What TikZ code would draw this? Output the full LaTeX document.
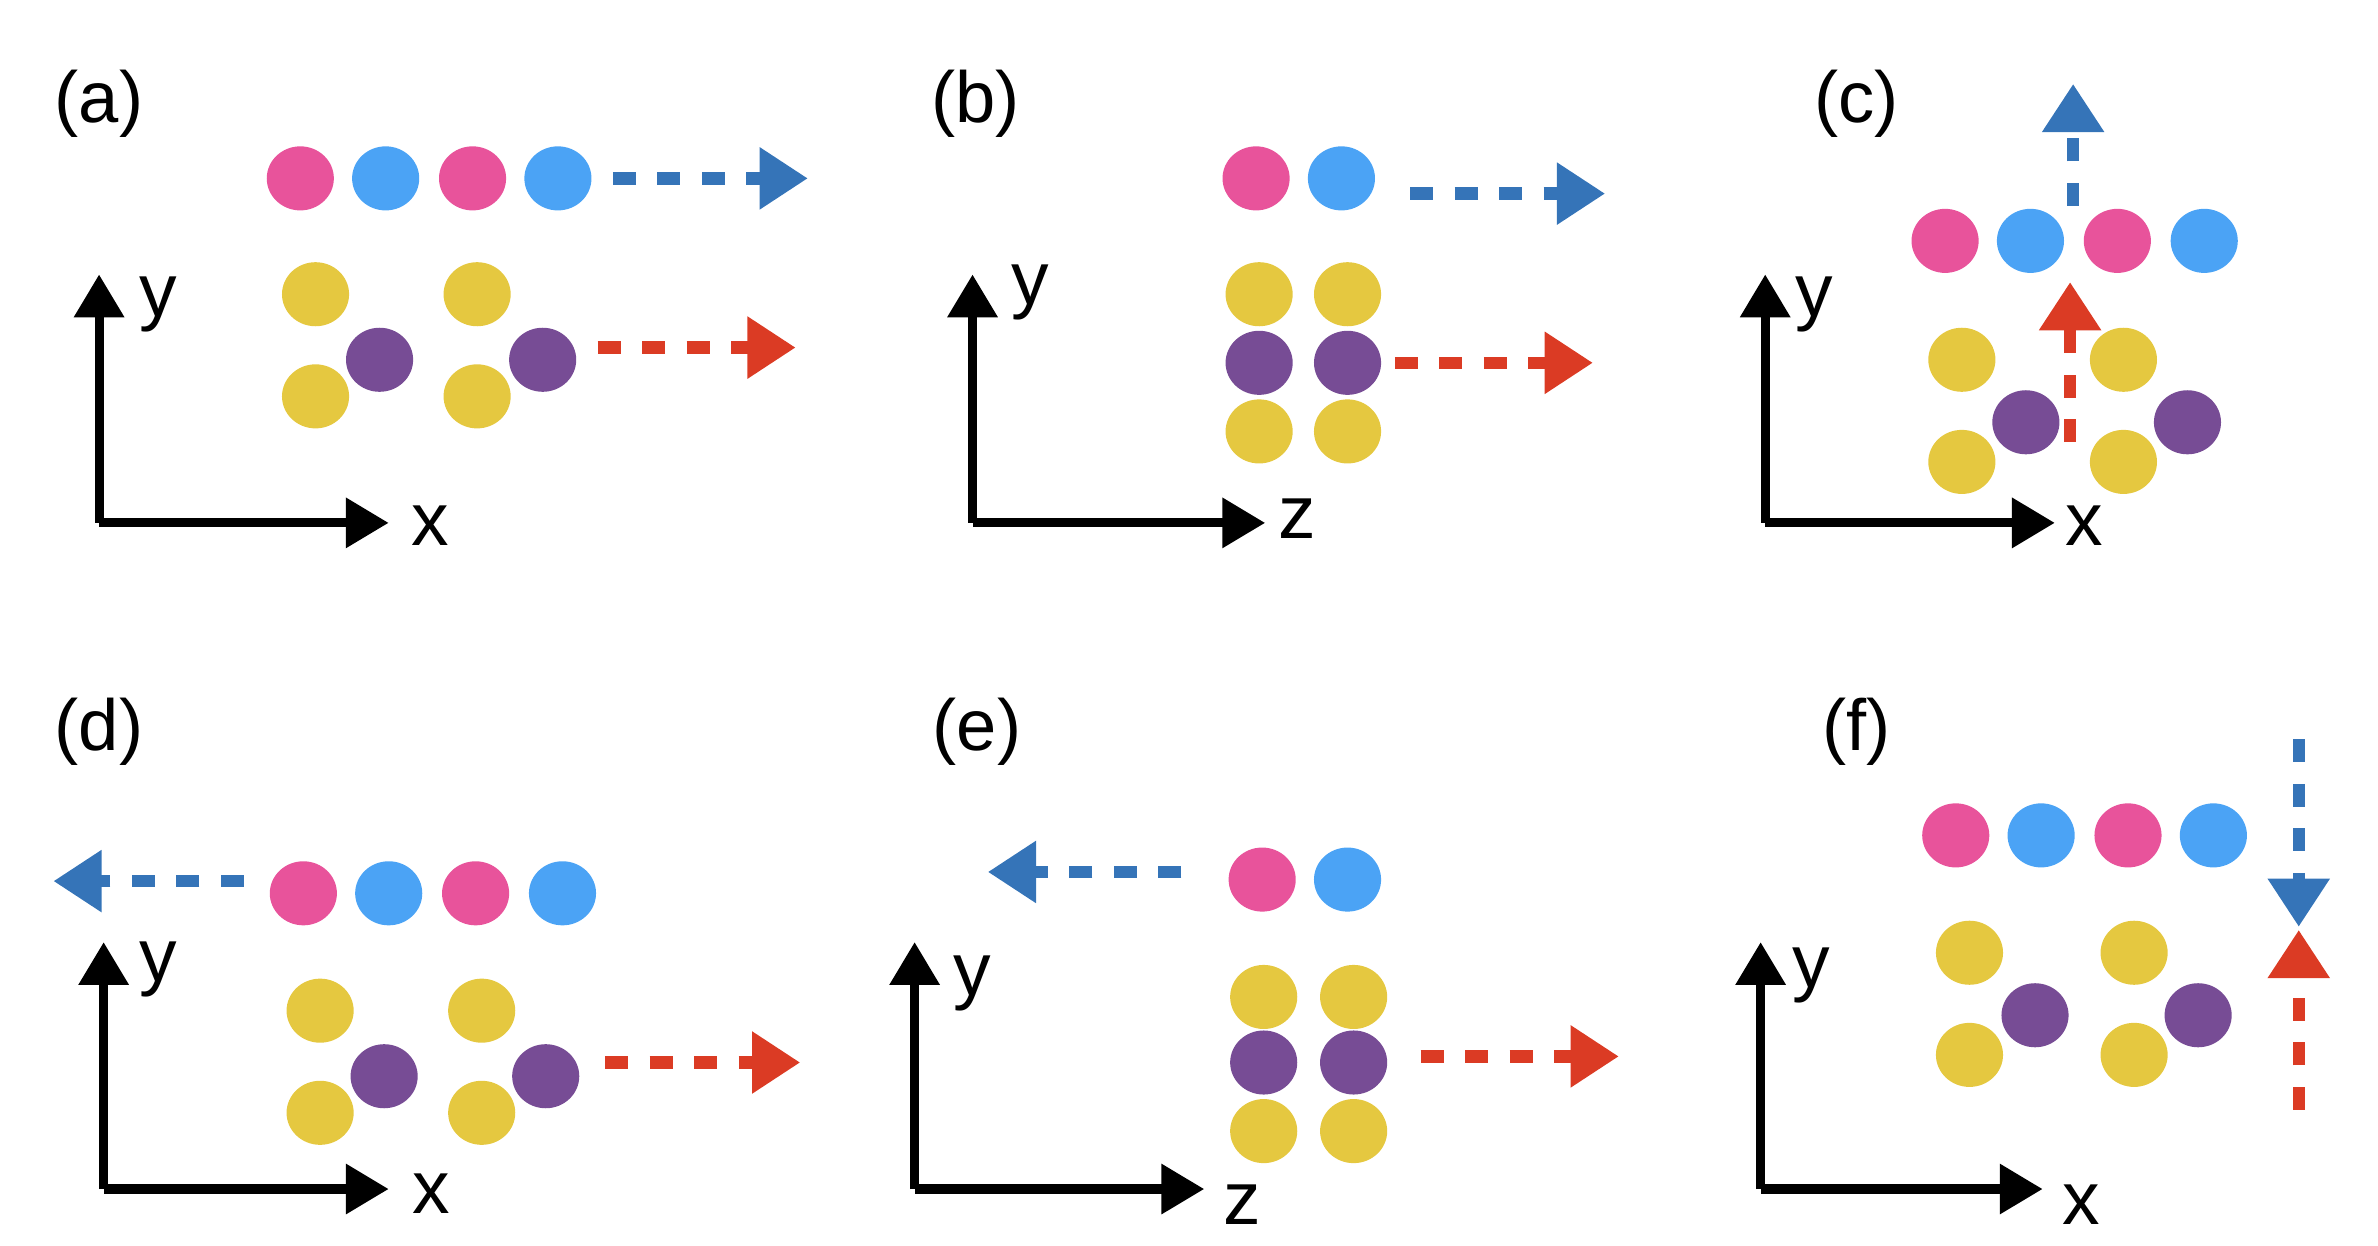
\documentclass[tikz,border=0pt]{standalone}
\usepackage{fontspec}
\setmainfont{Liberation Sans}
\usetikzlibrary{arrows.meta,shapes.geometric}
\definecolor{cpink}{HTML}{E8539B}
\definecolor{cblue}{HTML}{4BA3F5}
\definecolor{cyel}{HTML}{E5C840}
\definecolor{cpur}{HTML}{774C95}
\definecolor{ablue}{HTML}{3574B8}
\definecolor{ared}{HTML}{DB3B24}
\begin{document}
\begin{tikzpicture}[x=0.01cm,y=-0.01cm,
  atom/.style={minimum width=0.44cm,minimum height=0.42cm,ellipse,inner sep=0,draw=none},
  P/.style={atom,fill=cpink}, B/.style={atom,fill=cblue}, Y/.style={atom,fill=cyel}, U/.style={atom,fill=cpur},
  da/.style={line width=2.3pt,dash pattern=on 4.3pt off 4pt,-{Triangle[length=9pt,width=11pt]}},
  ax/.style={line width=1.7pt,-{Triangle[length=8pt,width=9pt]}},
  lab/.style={font=\fontsize{13.5}{15}\selectfont},
  axl/.style={font=\fontsize{14}{16}\selectfont}]
\useasboundingbox (0,0) rectangle (1560,817);
% (a)
\node[lab] (la) at (65,68) {(a)};
\node[P] (a1) at (197,117) {}; \node[B] (a2) at (253,117) {}; \node[P] (a3) at (310,117) {}; \node[B] (a4) at (366,117) {};
\node[Y] (a5) at (207,193) {}; \node[Y] (a6) at (313,193) {}; \node[Y] (a7) at (207,260) {}; \node[Y] (a8) at (313,260) {};
\node[U] (a9) at (249,236) {}; \node[U] (a10) at (356,236) {};
\coordinate (abs) at (402,117); \coordinate (abe) at (530,117);
\coordinate (ars) at (392,228); \coordinate (are) at (522,228);
\draw[da,ablue] (abs) -- (abe); \draw[da,ared] (ars) -- (are);
\coordinate (ao) at (65,343); \coordinate (ay) at (65,180); \coordinate (ax) at (255,343);
\draw[ax] (ao) -- (ay); \draw[ax] (ao) -- (ax);
\node[axl] (ayl) at (104,200) {y}; \node[axl] (axl) at (282,345) {x};
% (b)
\node[lab] (lb) at (640,68) {(b)};
\node[P] (b1) at (824,117) {}; \node[B] (b2) at (880,117) {};
\node[Y] (b3) at (826,193) {}; \node[Y] (b4) at (884,193) {};
\node[U] (b5) at (826,238) {}; \node[U] (b6) at (884,238) {};
\node[Y] (b7) at (826,283) {}; \node[Y] (b8) at (884,283) {};
\coordinate (bbs) at (925,127); \coordinate (bbe) at (1053,127);
\coordinate (brs) at (915,238); \coordinate (bre) at (1045,238);
\draw[da,ablue] (bbs) -- (bbe); \draw[da,ared] (brs) -- (bre);
\coordinate (bo) at (638,343); \coordinate (by) at (638,180); \coordinate (bx) at (830,343);
\draw[ax] (bo) -- (by); \draw[ax] (bo) -- (bx);
\node[axl] (byl) at (676,192) {y}; \node[axl] (bzl) at (851,340) {z};
% (c)
\node[lab] (lc) at (1218,68) {(c)};
\node[P] (c1) at (1276,158) {}; \node[B] (c2) at (1332,158) {}; \node[P] (c3) at (1389,158) {}; \node[B] (c4) at (1446,158) {};
\node[Y] (c5) at (1287,236) {}; \node[Y] (c6) at (1393,236) {}; \node[Y] (c7) at (1287,303) {}; \node[Y] (c8) at (1393,303) {};
\node[U] (c9) at (1329,277) {}; \node[U] (c10) at (1435,277) {};
\coordinate (cbs) at (1360,135); \coordinate (cbe) at (1360,55);
\coordinate (crs) at (1358,290); \coordinate (cre) at (1358,185);
\draw[da,ablue] (cbs) -- (cbe); \draw[da,ared] (crs) -- (cre);
\coordinate (co) at (1158,343); \coordinate (cy) at (1158,180); \coordinate (cx) at (1348,343);
\draw[ax] (co) -- (cy); \draw[ax] (co) -- (cx);
\node[axl] (cyl) at (1190,200) {y}; \node[axl] (cxl) at (1367,345) {x};
% (d)
\node[lab] (ld) at (65,480) {(d)};
\node[P] (d1) at (199,586) {}; \node[B] (d2) at (255,586) {}; \node[P] (d3) at (312,586) {}; \node[B] (d4) at (369,586) {};
\node[Y] (d5) at (210,663) {}; \node[Y] (d6) at (316,663) {}; \node[Y] (d7) at (210,730) {}; \node[Y] (d8) at (316,730) {};
\node[U] (d9) at (252,706) {}; \node[U] (d10) at (358,706) {};
\coordinate (dbs) at (160,578); \coordinate (dbe) at (35,578);
\coordinate (drs) at (397,697); \coordinate (dre) at (525,697);
\draw[da,ablue] (dbs) -- (dbe); \draw[da,ared] (drs) -- (dre);
\coordinate (do) at (68,780); \coordinate (dy) at (68,618); \coordinate (dx) at (255,780);
\draw[ax] (do) -- (dy); \draw[ax] (do) -- (dx);
\node[axl] (dyl) at (104,636) {y}; \node[axl] (dxl) at (283,783) {x};
% (e)
\node[lab] (le) at (641,480) {(e)};
\node[P] (e1) at (828,577) {}; \node[B] (e2) at (884,577) {};
\node[Y] (e3) at (829,654) {}; \node[Y] (e4) at (888,654) {};
\node[U] (e5) at (829,697) {}; \node[U] (e6) at (888,697) {};
\node[Y] (e7) at (829,742) {}; \node[Y] (e8) at (888,742) {};
\coordinate (ebs) at (775,572); \coordinate (ebe) at (648,572);
\coordinate (ers) at (932,693); \coordinate (ere) at (1062,693);
\draw[da,ablue] (ebs) -- (ebe); \draw[da,ared] (ers) -- (ere);
\coordinate (eo) at (600,780); \coordinate (ey) at (600,618); \coordinate (ex) at (790,780);
\draw[ax] (eo) -- (ey); \draw[ax] (eo) -- (ex);
\node[axl] (eyl) at (638,645) {y}; \node[axl] (ezl) at (815,790) {z};
% (f)
\node[lab] (lf) at (1218,480) {(f)};
\node[P] (f1) at (1283,548) {}; \node[B] (f2) at (1339,548) {}; \node[P] (f3) at (1396,548) {}; \node[B] (f4) at (1452,548) {};
\node[Y] (f5) at (1292,625) {}; \node[Y] (f6) at (1400,625) {}; \node[Y] (f7) at (1292,692) {}; \node[Y] (f8) at (1400,692) {};
\node[U] (f9) at (1335,666) {}; \node[U] (f10) at (1442,666) {};
\coordinate (fbs) at (1508,485); \coordinate (fbe) at (1508,608);
\coordinate (frs) at (1508,728); \coordinate (fre) at (1508,610);
\draw[da,ablue] (fbs) -- (fbe); \draw[da,ared] (frs) -- (fre);
\coordinate (fo) at (1155,780); \coordinate (fy) at (1155,618); \coordinate (fx) at (1340,780);
\draw[ax] (fo) -- (fy); \draw[ax] (fo) -- (fx);
\node[axl] (fyl) at (1188,640) {y}; \node[axl] (fxl) at (1365,790) {x};
\end{tikzpicture}
\end{document}
